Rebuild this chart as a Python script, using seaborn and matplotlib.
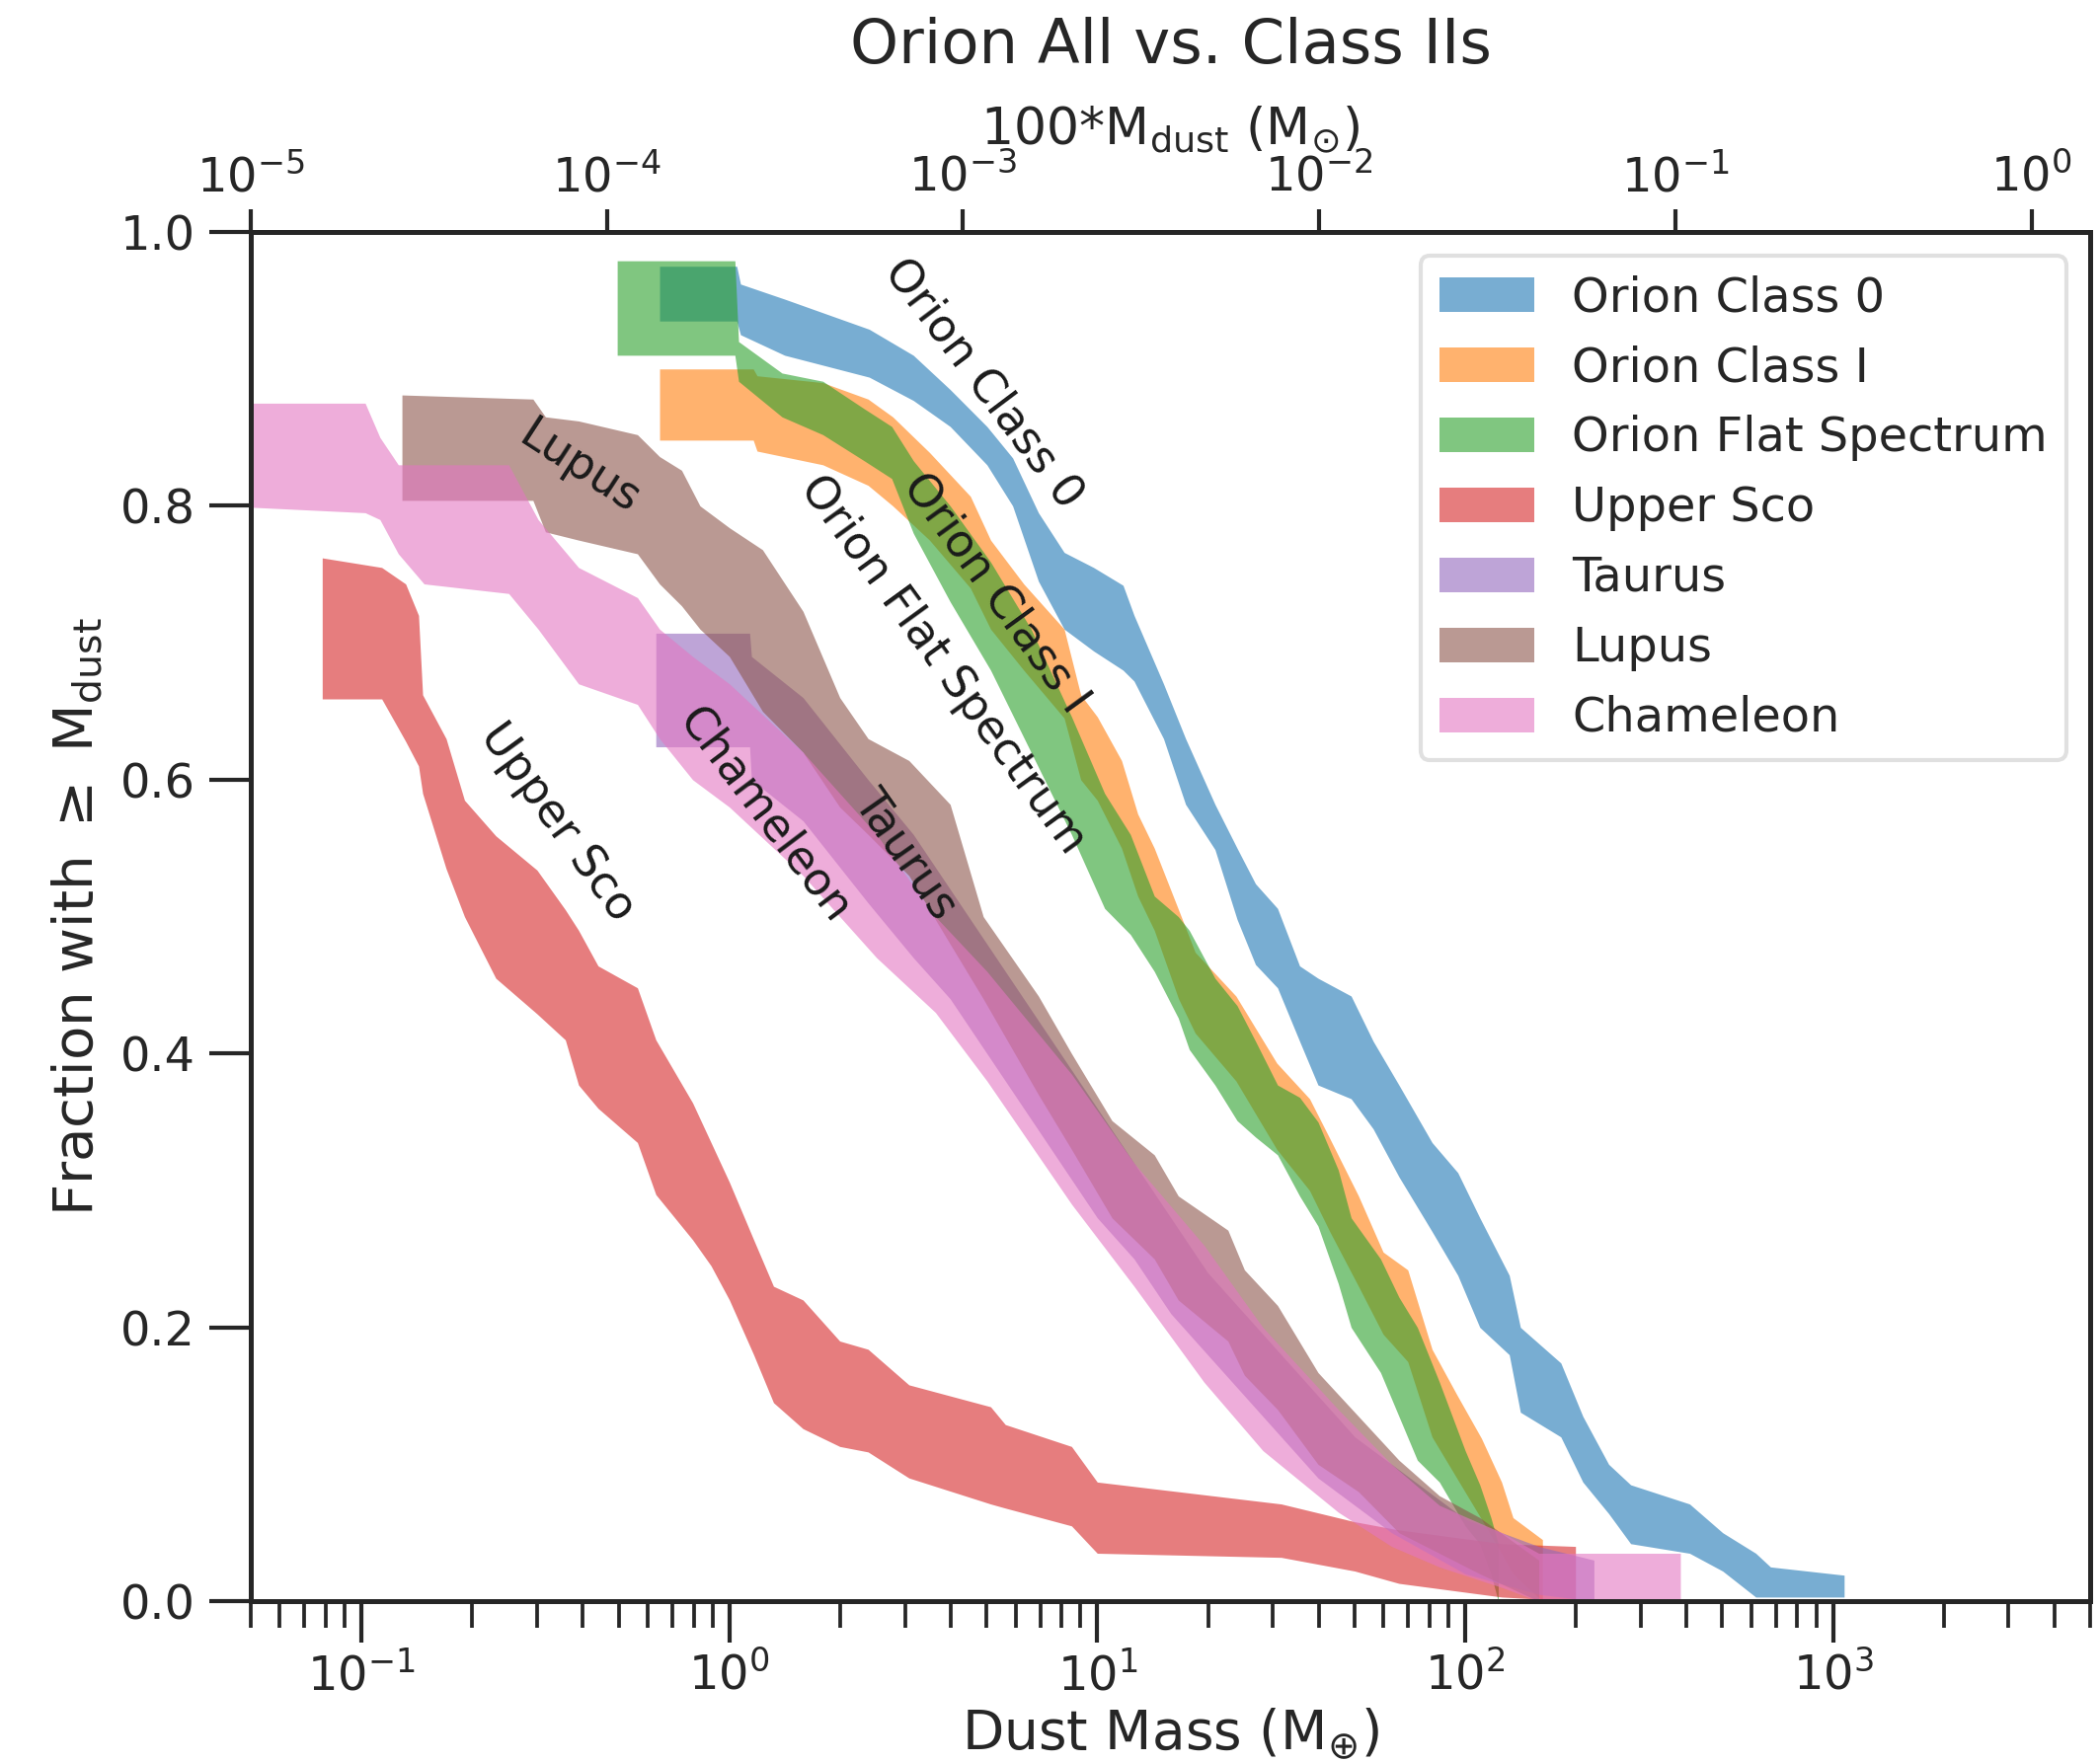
import matplotlib
matplotlib.use("Agg")
import matplotlib.pyplot as plt
import seaborn as sns
from matplotlib.ticker import NullLocator, FixedLocator

# ---------------- data (dust mass in Earth masses, fraction bounds) ----------------
names = ["Orion Class 0", "Orion Class I", "Orion Flat Spectrum", "Upper Sco",
         "Taurus", "Lupus", "Chameleon"]

class0_m = [0.646, 1.047, 1.072, 1.413, 2.399, 3.162, 3.981, 5.012, 5.888, 6.918,
            8.128, 9.772, 11.75, 12.59, 15.14, 17.38, 20.89, 23.99, 26.92, 30.90,
            35.48, 39.81, 48.98, 56.23, 66.07, 81.28, 95.50, 109.6, 131.8, 141.3,
            182.0, 208.9, 245.5, 281.8, 407.4, 501.2, 616.6, 676.1, 1072]
class0_lo = [0.935, 0.935, 0.925, 0.91, 0.894, 0.877, 0.858, 0.83, 0.80, 0.745,
             0.71, 0.694, 0.68, 0.672, 0.63, 0.582, 0.549, 0.498, 0.465, 0.448,
             0.409, 0.377, 0.367, 0.345, 0.31, 0.27, 0.238, 0.20, 0.18, 0.138,
             0.12, 0.087, 0.064, 0.042, 0.035, 0.022, 0.003, 0.003, 0.003]
class0_hi = [0.975, 0.975, 0.962, 0.951, 0.929, 0.91, 0.885, 0.858, 0.835, 0.795,
             0.766, 0.755, 0.742, 0.72, 0.67, 0.63, 0.582, 0.55, 0.524, 0.506,
             0.464, 0.455, 0.442, 0.409, 0.377, 0.335, 0.313, 0.28, 0.238, 0.20,
             0.174, 0.135, 0.10, 0.085, 0.071, 0.05, 0.035, 0.025, 0.019]

class1_m = [0.646, 1.161, 1.189, 1.795, 2.382, 2.780, 3.499, 4.519, 5.129, 6.310,
            8.128, 9.016, 10.0, 11.64, 12.88, 14.29, 16.63, 18.45, 23.82, 30.76,
            37.76, 42.85, 51.29, 59.84, 69.82, 81.28, 94.84, 110.7, 125.6, 134.9, 162.2]
class1_lo = [0.848, 0.848, 0.84, 0.83, 0.815, 0.80, 0.775, 0.74, 0.71, 0.68,
             0.645, 0.60, 0.585, 0.55, 0.515, 0.49, 0.44, 0.415, 0.38, 0.33,
             0.30, 0.27, 0.23, 0.195, 0.175, 0.12, 0.09, 0.06, 0.035, 0.02, 0.0]
class1_hi = [0.90, 0.90, 0.895, 0.89, 0.878, 0.865, 0.839, 0.807, 0.775, 0.743,
             0.71, 0.662, 0.646, 0.614, 0.575, 0.55, 0.505, 0.474, 0.442, 0.393,
             0.367, 0.338, 0.296, 0.255, 0.242, 0.184, 0.151, 0.119, 0.087, 0.061, 0.045]

flat_m = [0.4955, 1.035, 1.059, 1.390, 1.795, 2.323, 2.761, 3.162, 3.981, 5.129,
          6.607, 8.511, 10.47, 12.30, 14.29, 16.60, 17.78, 20.89, 23.99, 26.92,
          30.90, 35.48, 39.81, 45.19, 48.98, 58.88, 66.07, 74.13, 85.11, 100.0,
          109.6, 117.5, 123.0]
flat_lo = [0.91, 0.91, 0.891, 0.865, 0.852, 0.833, 0.82, 0.78, 0.73, 0.68,
           0.62, 0.56, 0.506, 0.487, 0.46, 0.426, 0.403, 0.377, 0.351, 0.339,
           0.326, 0.296, 0.274, 0.232, 0.20, 0.167, 0.135, 0.103, 0.087, 0.055,
           0.042, 0.02, 0.0]
flat_hi = [0.979, 0.979, 0.92, 0.897, 0.891, 0.871, 0.858, 0.833, 0.80, 0.759,
           0.71, 0.646, 0.59, 0.56, 0.515, 0.50, 0.49, 0.455, 0.435, 0.409,
           0.377, 0.368, 0.35, 0.315, 0.28, 0.25, 0.222, 0.20, 0.16, 0.11,
           0.085, 0.061, 0.042]

usco_m = [0.0782, 0.1135, 0.1318, 0.1429, 0.1466, 0.1698, 0.1905, 0.2317, 0.2999, 0.3581,
          0.3890, 0.4395, 0.5623, 0.6310, 0.7943, 0.8913, 1.0, 1.164, 1.318, 1.585,
          1.995, 2.382, 3.076, 5.129, 5.623, 8.511, 10.0, 31.62, 50.12, 66.07,
          125.9, 199.5]
usco_lo = [0.659, 0.659, 0.628, 0.61, 0.59, 0.535, 0.50, 0.455, 0.429, 0.41,
           0.377, 0.36, 0.335, 0.297, 0.264, 0.245, 0.22, 0.18, 0.145, 0.126,
           0.113, 0.109, 0.09, 0.071, 0.068, 0.055, 0.035, 0.032, 0.022, 0.013,
           0.003, 0.0]
usco_hi = [0.762, 0.755, 0.743, 0.72, 0.662, 0.63, 0.585, 0.559, 0.534, 0.505,
           0.49, 0.464, 0.448, 0.41, 0.364, 0.335, 0.306, 0.264, 0.23, 0.22,
           0.19, 0.184, 0.158, 0.142, 0.129, 0.113, 0.087, 0.071, 0.058, 0.052,
           0.042, 0.04]

taurus_m = [0.631, 1.135, 1.148, 1.585, 2.382, 3.162, 3.981, 5.012, 6.310, 7.943,
            10.0, 12.59, 15.85, 19.95, 25.12, 31.62, 39.81, 50.12, 63.10, 79.43,
            100.0, 158.5, 223.9]
taurus_lo = [0.624, 0.624, 0.60, 0.57, 0.51, 0.47, 0.44, 0.40, 0.36, 0.32,
             0.28, 0.25, 0.21, 0.18, 0.15, 0.12, 0.09, 0.07, 0.05, 0.035,
             0.02, 0.005, 0.0]
taurus_hi = [0.707, 0.707, 0.69, 0.66, 0.60, 0.56, 0.52, 0.48, 0.44, 0.40,
             0.36, 0.32, 0.28, 0.24, 0.21, 0.18, 0.15, 0.12, 0.10, 0.08,
             0.06, 0.04, 0.03]

lupus_m = [0.1288, 0.2924, 0.3162, 0.3890, 0.5623, 0.6457, 0.7413, 0.8318, 1.0, 1.230,
           1.585, 1.995, 2.382, 3.076, 3.981, 4.898, 6.918, 8.511, 10.96, 14.29,
           16.60, 22.65, 25.12, 30.90, 39.81, 51.29, 66.07, 85.11, 109.6, 158.5]
lupus_lo = [0.804, 0.804, 0.781, 0.775, 0.765, 0.743, 0.727, 0.71, 0.69, 0.65,
            0.62, 0.58, 0.56, 0.53, 0.48, 0.44, 0.37, 0.33, 0.28, 0.25,
            0.22, 0.19, 0.165, 0.14, 0.10, 0.08, 0.05, 0.035, 0.02, 0.0]
lupus_hi = [0.881, 0.878, 0.865, 0.862, 0.852, 0.836, 0.826, 0.80, 0.784, 0.768,
            0.723, 0.66, 0.63, 0.614, 0.582, 0.50, 0.442, 0.40, 0.351, 0.326,
            0.296, 0.271, 0.242, 0.216, 0.167, 0.135, 0.103, 0.077, 0.061, 0.03]

cham_m = [0.05, 0.1023, 0.1122, 0.1259, 0.1479, 0.2512, 0.3020, 0.3890, 0.5623, 0.6457,
          0.7943, 1.0, 1.585, 2.512, 3.631, 5.012, 8.511, 12.59, 19.50, 28.18,
          45.19, 63.10, 85.11, 125.9, 158.5, 384.6]
cham_lo = [0.799, 0.795, 0.79, 0.765, 0.743, 0.736, 0.71, 0.67, 0.655, 0.63,
           0.60, 0.58, 0.53, 0.47, 0.43, 0.38, 0.29, 0.23, 0.16, 0.11,
           0.065, 0.04, 0.025, 0.01, 0.0, 0.0]
cham_hi = [0.875, 0.875, 0.85, 0.83, 0.83, 0.83, 0.79, 0.755, 0.733, 0.71,
           0.69, 0.67, 0.62, 0.56, 0.50, 0.46, 0.385, 0.32, 0.26, 0.20,
           0.14, 0.10, 0.07, 0.05, 0.035, 0.035]

# curve labels: text, x (M_earth), fraction, rotation
label_text = ["Orion Class 0", "Orion Class I", "Orion Flat Spectrum", "Upper Sco",
              "Chameleon", "Taurus", "Lupus"]
label_x = [4.9, 5.3, 3.8, 0.34, 1.24, 3.0, 0.39]
label_y = [0.889, 0.736, 0.684, 0.569, 0.574, 0.545, 0.828]
label_rot = [-53, -54, -54, -54, -53, -55, -33]

x_ticks_bottom = [0.1, 1, 10, 100, 1000]
x_ticks_top = [1e-5, 1e-4, 1e-3, 1e-2, 1e-1, 1e0]
y_ticks = [0.0, 0.2, 0.4, 0.6, 0.8, 1.0]

# ---------------- plot ----------------
sns.set_theme(style="ticks")
plt.rcParams['font.family'] = ['DejaVu Sans']
plt.rcParams['mathtext.fontset'] = 'dejavusans'
palette = sns.color_palette("tab10", 7)

fig = plt.figure(figsize=(2127 / 300, 1786 / 300), dpi=300)
ax = fig.add_axes([0.1194, 0.0918, 0.8759, 0.7766])

series = [(class0_m, class0_lo, class0_hi), (class1_m, class1_lo, class1_hi),
          (flat_m, flat_lo, flat_hi), (usco_m, usco_lo, usco_hi),
          (taurus_m, taurus_lo, taurus_hi), (lupus_m, lupus_lo, lupus_hi),
          (cham_m, cham_lo, cham_hi)]
for name, (m, lo, hi), col in zip(names, series, palette):
    ax.fill_between(m, lo, hi, color=col, alpha=0.6, linewidth=0, label=name)

ax.set_xscale("log")
ax.set_xlim(0.05, 5000)
ax.set_ylim(0, 1)
ax.set_yticks(y_ticks)
ax.xaxis.set_major_locator(FixedLocator(x_ticks_bottom))

for txt, xx, yy, rr in zip(label_text, label_x, label_y, label_rot):
    ax.text(xx, yy, txt, rotation=rr, ha="center", va="center",
            fontsize=11, color="0.1", rotation_mode="anchor")

ax.tick_params(axis="both", which="major", direction="out", length=10, width=1.0,
               labelsize=11.5, pad=3.5, colors="0.15")
ax.tick_params(axis="x", which="minor", direction="out", length=6.5, width=0.9)
ax.tick_params(axis="x", which="major", pad=2.5)
for sp in ax.spines.values():
    sp.set_linewidth(1.2)
    sp.set_color("0.15")

ax.set_xlabel("Dust Mass (M$_{\\oplus}$)", fontsize=13.2, labelpad=1.5)
ax.set_ylabel("Fraction with $\\geq$ M$_{\\rm dust}$", fontsize=13.5, labelpad=4)

leg = ax.legend(loc="upper right", fontsize=11.5, labelspacing=0.5,
                handlelength=2.0, handleheight=0.75, handletextpad=0.8,
                frameon=True, framealpha=0.8)
leg.get_frame().set_edgecolor("0.85")

ax2 = ax.twiny()
ax2.set_xscale("log")
ax2.set_xlim(1e-5, 1.46)
ax2.xaxis.set_major_locator(FixedLocator(x_ticks_top))
ax2.xaxis.set_minor_locator(NullLocator())
ax2.tick_params(axis="x", which="major", direction="out", length=5.5, width=1.0,
                labelsize=11.5, pad=2.0, colors="0.15")
ax2.set_xlabel("100*M$_{\\rm dust}$ (M$_{\\odot}$)", fontsize=12.5, labelpad=2.5)
for sp in ax2.spines.values():
    sp.set_linewidth(1.2)
    sp.set_color("0.15")

fig.text(0.5574, 0.9737, "Orion All vs. Class IIs", fontsize=15, ha="center",
         va="center", color="0.15")

fig.savefig("out.png", dpi=300)
